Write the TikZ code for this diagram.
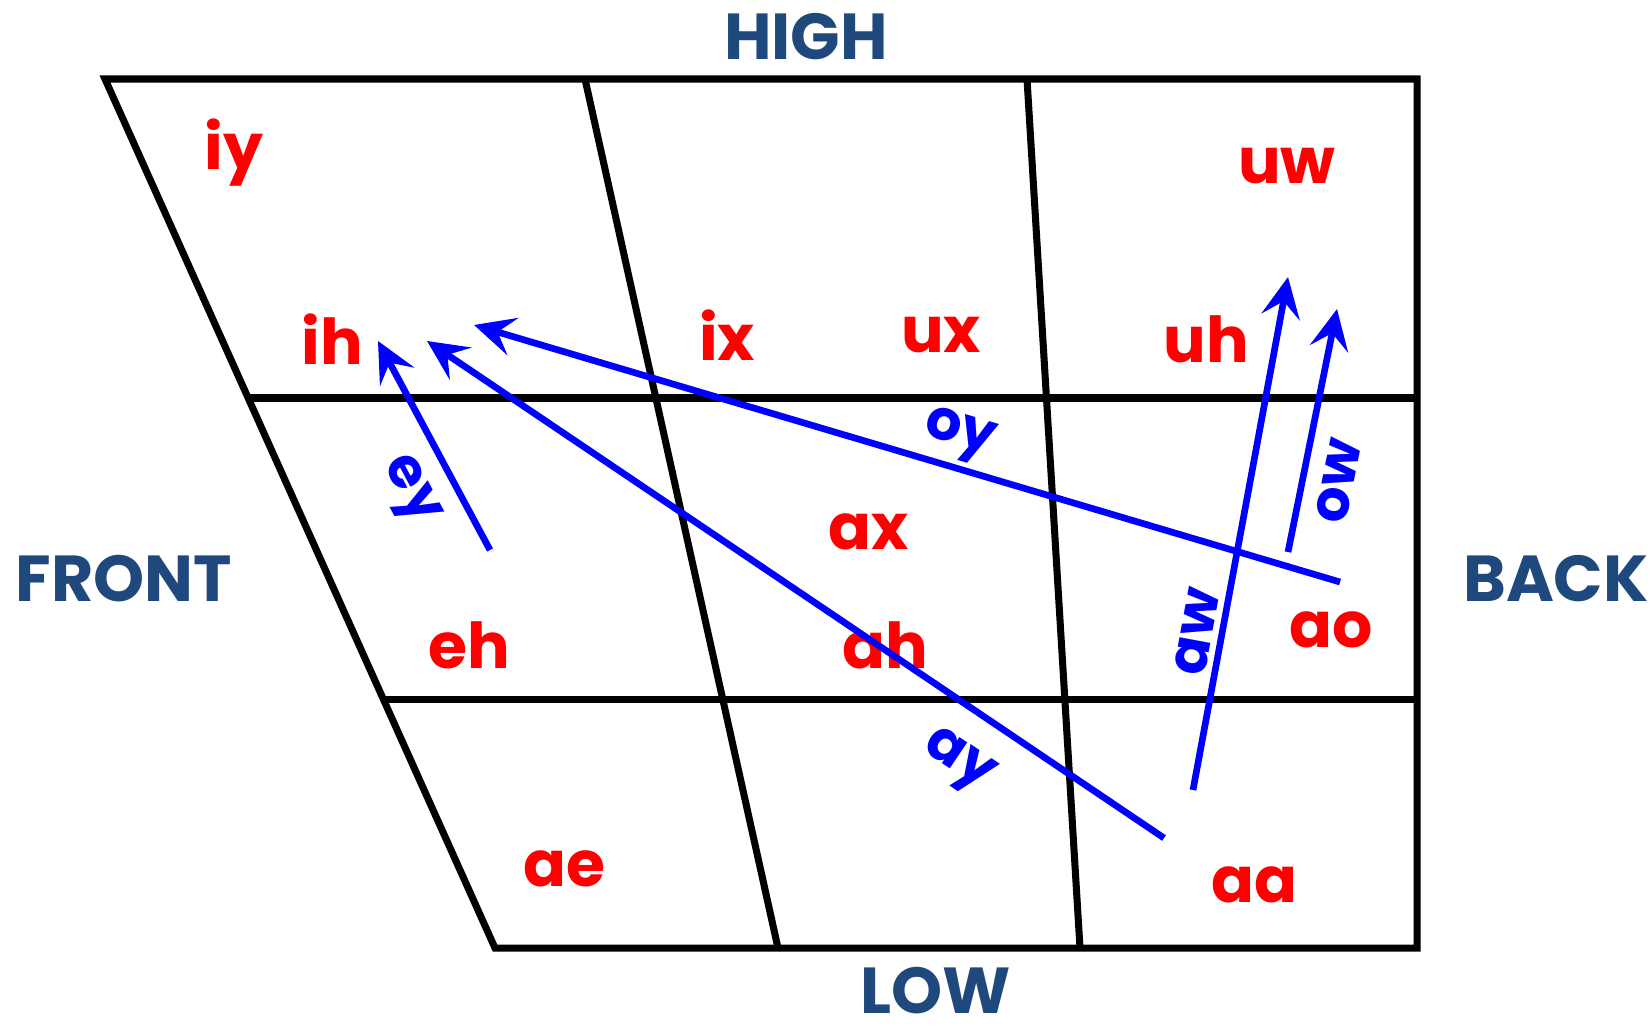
\documentclass[tikz,border=0pt]{standalone}
\usepackage{fontspec}
\setmainfont{Poppins}
\usetikzlibrary{arrows.meta}
\definecolor{vowelred}{RGB}{255,0,0}
\definecolor{glideblue}{RGB}{0,0,255}
\definecolor{axisblue}{RGB}{31,73,125}

\begin{document}
\begin{tikzpicture}[
			x=0.02cm, y=-0.02cm,
			frame/.style={line width=4pt, black},
			vowel/.style={text=vowelred, font=\bfseries\fontsize{36}{36}\selectfont},
			axis/.style={text=axisblue, font=\bfseries\fontsize{37}{37}\selectfont},
			glide/.style={draw=glideblue, line width=3.8pt,
				-{Stealth[length=23pt, width=22pt, inset=9pt]}},
			glidelabel/.style={text=glideblue, font=\bfseries\fontsize{32}{32}\selectfont, sloped}
			]
			\useasboundingbox (0,0) rectangle (1652,1025);
			% chart frame
			\draw[frame] (105,79) -- (1417,79) -- (1417,948) -- (495,948) -- cycle;
			\draw[frame] (248,398) -- (1420,398);
			\draw[frame] (383,699) -- (1417,699);
			\draw[frame] (585,79) -- (778,948);
			\draw[frame] (1027,79) -- (1080,948);
			% axis labels
			\node[axis] (high) at (806,37) {HIGH};
			\node[axis] (low) at (936,991) {LOW};
			\node[axis] (front) at (124,579) {FRONT};
			\node[axis] (back) at (1556,579) {BACK};
			% vowels
			\node[vowel] (iy) at (234,153) {iy};
			\node[vowel] (ih) at (332,339) {ih};
			\node[vowel] (ix) at (727,335) {ix};
			\node[vowel] (ux) at (941,335) {ux};
			\node[vowel] (uh) at (1206,339) {uh};
			\node[vowel] (uw) at (1287,166) {uw};
			\node[vowel] (ax) at (869,532) {ax};
			\node[vowel] (eh) at (469,645) {eh};
			\node[vowel] (ah) at (885,645) {ah};
			\node[vowel] (ao) at (1331,630) {ao};
			\node[vowel] (ae) at (564,869) {ae};
			\node[vowel] (aa) at (1254,885) {aa};
			% glide end points
			\coordinate (eyS) at (490,550);
			\coordinate (eyE) at (378,341);
			\coordinate (ayS) at (1164,838);
			\coordinate (ayE) at (427,341);
			\coordinate (oyS) at (1340,582);
			\coordinate (oyE) at (474,325);
			\coordinate (awS) at (1193,790);
			\coordinate (awE) at (1288,277);
			\coordinate (owS) at (1288,552);
			\coordinate (owE) at (1337,309);
			% diphthongs
			\draw[glide] (eyS) -- node[glidelabel, pos=0.38, below=7pt] {ey} (eyE);
			\draw[glide] (ayS) -- node[glidelabel, pos=0.24, below=12pt] {ay} (ayE);
			\draw[glide] (oyS) -- node[glidelabel, pos=0.45, above=-1pt] {oy} (oyE);
			\draw[glide] (awS) -- node[glidelabel, pos=0.3, above] {aw} (awE);
			\draw[glide] (owS) -- node[glidelabel, pos=0.32, below=6pt] {ow} (owE);
		\end{tikzpicture}
\end{document}
